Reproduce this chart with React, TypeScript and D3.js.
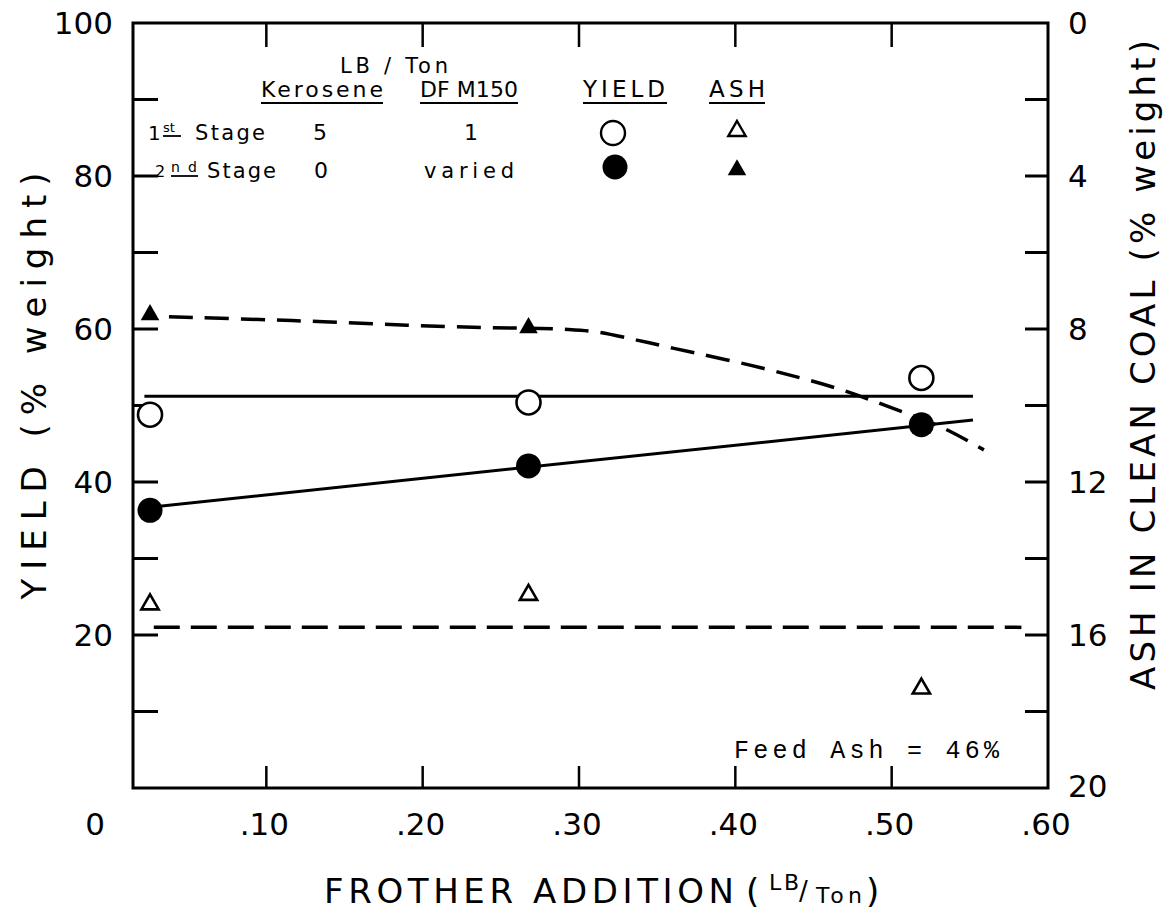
import React from 'react';
import * as d3 from 'd3';

// ---------- data ----------
const frother = [0.0256, 0.2677, 0.519];
const yield1st = [48.8, 50.4, 53.6];
const yield2nd = [36.3, 42.1, 47.5];
const ash1st = [15.2, 14.95, 17.4];
const ash2nd = [7.63, 7.97, 10.6];

const yield1stLineX = [0.022, 0.552];
const yield1stLineY = [51.2, 51.2];
const yield2ndLineX = [0.0256, 0.552];
const yield2ndLineY = [36.7, 48.1];
const ash1stLineX = [0.028, 0.583];
const ash1stLineY = [15.8, 15.8];
const ash2ndCurveX = [0.0377, 0.1164, 0.19, 0.239, 0.268, 0.293, 0.312, 0.337, 0.36, 0.417, 0.464, 0.498, 0.533, 0.559];
const ash2ndCurveY = [7.68, 7.78, 7.9, 7.96, 7.98, 8.01, 8.08, 8.29, 8.5, 9.02, 9.54, 10.03, 10.59, 11.16];

const xTickVals = [0.1, 0.2, 0.3, 0.4, 0.5];
const xLabelVals = [0, 0.1, 0.2, 0.3, 0.4, 0.5, 0.6];
const xLabels = ['0', '.10', '.20', '.30', '.40', '.50', '.60'];
const yTickVals = [10, 20, 30, 40, 50, 60, 70, 80, 90];
const yLabelVals = [100, 80, 60, 40, 20];
const ashLabelVals = [0, 4, 8, 12, 16, 20];

// ---------- layout ----------
const W = 1170;
const H = 915;
const LEFT = 133;
const RIGHT = 1048;
const TOP = 23;
const BOTTOM = 788;
const FONT = '"DejaVu Sans", sans-serif';

const x = d3.scaleLinear().domain([0, 0.6]).range([110, 1048]);
const y = d3.scaleLinear().domain([0, 100]).range([BOTTOM, TOP]);
const ash = d3.scaleLinear().domain([0, 20]).range([TOP, BOTTOM]);

const triPath = d3.symbol(d3.symbolTriangle, 150)() as string;
const triPathSmall = d3.symbol(d3.symbolTriangle, 130)() as string;

export default function App() {
  const straight = d3.line<[number, number]>().x((d) => d[0]).y((d) => d[1]);
  const curve = d3
    .line<[number, number]>()
    .x((d) => d[0])
    .y((d) => d[1])
    .curve(d3.curveCatmullRom.alpha(0.5));

  const l1 = straight(yield1stLineX.map((v, i) => [x(v), y(yield1stLineY[i])]));
  const l2 = straight(yield2ndLineX.map((v, i) => [x(v), y(yield2ndLineY[i])]));
  const l3 = straight(ash1stLineX.map((v, i) => [x(v), ash(ash1stLineY[i])]));
  const l4 = curve(ash2ndCurveX.map((v, i) => [x(v), ash(ash2ndCurveY[i])]));

  return (
    <div style={{ position: 'absolute', left: 0, top: 0 }}>
      <svg width={W} height={H} style={{ display: 'block', background: '#fff' }}>
        <g fill="none" stroke="#000" strokeLinecap="butt">
          {/* frame */}
          <rect x={LEFT} y={TOP} width={RIGHT - LEFT} height={BOTTOM - TOP} strokeWidth={3} />
          {/* ticks */}
          {xTickVals.map((v) => (
            <g key={'xt' + v}>
              <line x1={x(v)} x2={x(v)} y1={TOP} y2={TOP + 24} strokeWidth={2.5} />
              <line x1={x(v)} x2={x(v)} y1={BOTTOM} y2={BOTTOM - 22} strokeWidth={2.5} />
            </g>
          ))}
          {yTickVals.map((v) => (
            <g key={'yt' + v}>
              <line x1={LEFT} x2={LEFT + 25} y1={y(v)} y2={y(v)} strokeWidth={3} />
              <line x1={RIGHT} x2={RIGHT - 23} y1={y(v)} y2={y(v)} strokeWidth={3} />
            </g>
          ))}
          {/* lines */}
          <path d={l1 || ''} strokeWidth={3} />
          <path d={l2 || ''} strokeWidth={3} />
          <path d={l3 || ''} strokeWidth={3.5} strokeDasharray="26 11" />
          <path d={l4 || ''} strokeWidth={3.5} strokeDasharray="24 12" />
        </g>

        {/* markers */}
        {frother.map((v, i) => (
          <g key={'m' + i}>
            <circle cx={x(v)} cy={y(yield1st[i])} r={12} fill="#fff" stroke="#000" strokeWidth={2.6} />
            <path d={triPathSmall} transform={`translate(${x(v)},${ash(ash1st[i])})`} fill="#fff" stroke="#000" strokeWidth={2.6} />
            <path d={triPath} transform={`translate(${x(v)},${ash(ash2nd[i])})`} fill="#000" />
            <circle cx={x(v)} cy={y(yield2nd[i])} r={12.5} fill="#000" />
          </g>
        ))}

        {/* axis labels */}
        <g fontFamily={FONT} fontSize={31} fill="#000">
          {yLabelVals.map((v) => (
            <text key={'yl' + v} x={113} y={y(v)} textAnchor="end" dominantBaseline="central">
              {v}
            </text>
          ))}
          {ashLabelVals.map((v) => (
            <text key={'al' + v} x={1068} y={ash(v) - (v === 20 ? 2 : 0)} textAnchor="start" dominantBaseline="central">
              {v}
            </text>
          ))}
          {xLabelVals.map((v, i) => (
            <text key={'xl' + v} x={v === 0 ? 95 : x(v) - 2} y={824} textAnchor="middle" dominantBaseline="central">
              {xLabels[i]}
            </text>
          ))}
        </g>

        {/* axis titles */}
        <g fontFamily={FONT} fontSize={34} fill="#000">
          <text
            transform="translate(34,386) rotate(-90)"
            textAnchor="middle"
            dominantBaseline="central"
            textLength={427}
            lengthAdjust="spacing"
          >
            YIELD (% weight)
          </text>
          <text
            transform="translate(1143,365) rotate(-90)"
            textAnchor="middle"
            dominantBaseline="central"
            textLength={650}
            lengthAdjust="spacing"
          >
            ASH IN CLEAN COAL (% weight)
          </text>
          <text x={324} y={903} textLength={410} lengthAdjust="spacing">
            FROTHER ADDITION
          </text>
          <text x={746} y={903}>(</text>
          <text x={769} y={890} fontSize={22} textLength={30} lengthAdjust="spacing">LB</text>
          <text x={799} y={900} fontSize={26}>/</text>
          <text x={816} y={903} fontSize={22} textLength={46} lengthAdjust="spacing">Ton</text>
          <text x={866} y={903}>)</text>
        </g>

        {/* legend */}
        <g fontFamily={FONT} fill="#000">
          <text x={340} y={73} fontSize={21} textLength={108} lengthAdjust="spacing">LB / Ton</text>
          <text x={261} y={97} fontSize={22} textLength={122} lengthAdjust="spacing">Kerosene</text>
          <text x={420} y={97} fontSize={22} textLength={98} lengthAdjust="spacing">DF M150</text>
          <text x={583} y={97} fontSize={23} textLength={82} lengthAdjust="spacing">YIELD</text>
          <text x={709} y={97} fontSize={23} textLength={56} lengthAdjust="spacing">ASH</text>
          <g stroke="#000" strokeWidth={2.2}>
            <line x1={261} x2={383} y1={103} y2={103} />
            <line x1={420} x2={518} y1={103} y2={103} />
            <line x1={583} x2={667} y1={103} y2={103} />
            <line x1={709} x2={765} y1={103} y2={103} />
            <line x1={163} x2={181} y1={136} y2={136} strokeWidth={1.8} />
            <line x1={171} x2={198} y1={176} y2={176} strokeWidth={1.8} />
          </g>

          <text x={148} y={140} fontSize={20}>1</text>
          <text x={163} y={132} fontSize={13}>st</text>
          <text x={195} y={140} fontSize={21} textLength={70} lengthAdjust="spacing">Stage</text>
          <text x={320} y={140} fontSize={22} textAnchor="middle">5</text>
          <text x={471} y={140} fontSize={22} textAnchor="middle">1</text>

          <text x={155} y={177} fontSize={16}>2</text>
          <text x={171} y={172} fontSize={14} textLength={26} lengthAdjust="spacing">nd</text>
          <text x={207} y={178} fontSize={21} textLength={69} lengthAdjust="spacing">Stage</text>
          <text x={321} y={178} fontSize={22} textAnchor="middle">0</text>
          <text x={424} y={178} fontSize={21} textLength={90} lengthAdjust="spacing">varied</text>

          <circle cx={613} cy={133} r={12} fill="#fff" stroke="#000" strokeWidth={2.4} />
          <circle cx={615} cy={167} r={12.5} fill="#000" />
          <path d={triPathSmall} transform="translate(737,131)" fill="#fff" stroke="#000" strokeWidth={2.4} />
          <path d={triPath} transform="translate(737,170)" fill="#000" />

          <text
            x={734}
            y={758}
            fontFamily='"Liberation Mono", "DejaVu Sans Mono", monospace'
            fontSize={25}
            textLength={265}
            lengthAdjust="spacing"
          >
            Feed Ash = 46%
          </text>
        </g>
      </svg>
    </div>
  );
}
